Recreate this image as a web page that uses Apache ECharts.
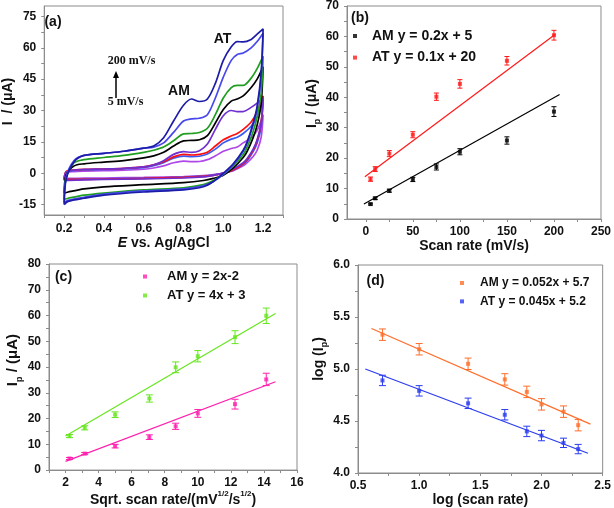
<!DOCTYPE html>
<html><head><meta charset="utf-8">
<script src="https://cdn.jsdelivr.net/npm/echarts@6/dist/echarts.min.js"></script>
<style>html,body{margin:0;padding:0;background:#fff}#c{width:614px;height:508px}</style>
</head><body><div id="c"></div>
<script>
// ---------- Panel (a): cyclic voltammograms ----------
const fwdE = [0.20, 0.21, 0.25, 0.30, 0.40, 0.50, 0.60, 0.65, 0.70, 0.75, 0.80, 0.84, 0.88, 0.92, 0.96, 1.00, 1.04, 1.07, 1.10, 1.14, 1.17, 1.20];
const revE = [1.20, 1.19, 1.17, 1.15, 1.12, 1.10, 1.05, 1.00, 0.95, 0.90, 0.80, 0.60, 0.40, 0.30, 0.22, 0.20];
const cvRates = ['200 mV/s', '150 mV/s', '100 mV/s', '75 mV/s', '50 mV/s', '25 mV/s', '10 mV/s', '5 mV/s'];
const cvColors = ['#1c1ca8', '#4848ec', '#1f9e1f', '#000000', '#7030d0', '#ff1010', '#3a5cf5', '#b048e8'];
const cvFwd200 = [-15, -3, 5.5, 8.5, 9.5, 10.5, 12, 13, 17, 25, 32.5, 35.5, 34.3, 35.5, 43, 54, 60.5, 63, 62.8, 64, 66.5, 69];
const cvRev200 = [69, 48, 32, 24, 15, 11, 4.5, 0, -4, -6.5, -8, -9, -10.5, -12, -13.5, -15];
const cvFwd150 = [-14, -2, 6, 8.5, 9.5, 10.5, 12, 12.5, 14.5, 19.5, 25, 26, 26.3, 28, 36, 46, 54, 56.8, 57.5, 60, 63, 67];
const cvRev150 = [67, 46, 31, 23, 14.5, 10.5, 4, -0.5, -4, -6, -7.5, -8.5, -10, -11.5, -13, -14];
const cvFwd100 = [-12.5, -2, 5, 6.5, 7.5, 8.5, 10, 11, 12.5, 15.5, 18.8, 19, 19.5, 21.5, 28, 36, 41, 42, 42, 45.5, 50, 56];
const cvRev100 = [56, 38, 27, 20, 12.5, 9, 3.5, -0.5, -3.5, -5.5, -7, -8, -9.5, -10.5, -12, -12.5];
const cvFwd75 = [-9.5, -1, 3.5, 4.5, 5.3, 6, 7.3, 8.3, 10, 13, 15.5, 15.7, 16, 18, 24, 30.5, 34.5, 35.5, 37, 41, 45, 51];
const cvRev75 = [51, 33, 23, 17, 10.5, 7.5, 2.5, -1, -2.5, -3.5, -4.5, -5.5, -6.5, -7.5, -9, -9.5];
const cvFwd50 = [-3.5, 0.5, 1.5, 1.8, 2, 2.3, 3, 4, 6, 9, 10.3, 10, 10.8, 14, 21, 27.5, 30, 29.5, 29.5, 31.5, 33.5, 36];
const cvRev50 = [36, 24, 16, 11.5, 7, 5, 2, 0, -1, -1.8, -2.3, -2.7, -3, -3.2, -3.4, -3.5];
const cvFwd25 = [-3, 0.8, 1.5, 1.8, 2, 2.3, 3, 4, 5.5, 7.8, 9, 8.7, 9, 10, 13, 16, 17.8, 19, 21, 24.5, 29.5, 37];
const cvRev25 = [37, 24, 15.5, 11, 6.5, 4.5, 1.5, 0, -1, -1.5, -2, -2.5, -2.8, -3, -3, -3];
const cvFwd10 = [-3, 0.5, 1.3, 1.6, 1.8, 2.1, 2.7, 3.6, 5, 7.2, 8.2, 7.9, 8.1, 9.2, 11.5, 14.5, 16.3, 17.2, 19, 22.5, 27, 35];
const cvRev10 = [35, 22, 14.5, 10.3, 6, 4.2, 1.4, 0, -0.9, -1.4, -1.9, -2.4, -2.7, -2.9, -3, -3];
const cvFwd5 = [-2.5, 0.3, 0.8, 1.0, 1.2, 1.4, 1.9, 2.5, 3.5, 5, 5.8, 5.5, 5.6, 6.5, 8.3, 10.5, 11.8, 12.5, 14.5, 17, 20.5, 28];
const cvRev5 = [28, 17, 11, 8, 5, 3.5, 1.2, 0, -0.7, -1.2, -1.6, -2, -2.3, -2.4, -2.5, -2.5];
const cvFwdAll = [cvFwd200, cvFwd150, cvFwd100, cvFwd75, cvFwd50, cvFwd25, cvFwd10, cvFwd5];
const cvRevAll = [cvRev200, cvRev150, cvRev100, cvRev75, cvRev50, cvRev25, cvRev10, cvRev5];

// ---------- Panels (b)-(d) ----------
const scanRate = [5, 10, 25, 50, 75, 100, 150, 200];
const bAM = [4.9, 6.8, 9.3, 13.0, 17.1, 22.1, 25.8, 35.3];
const bAMerr = [0.3, 0.4, 0.5, 0.7, 1.0, 1.0, 1.2, 1.6];
const bAT = [13.1, 16.4, 21.5, 27.7, 40.2, 44.4, 52.0, 60.4];
const bATerr = [0.7, 0.8, 1.0, 1.0, 1.2, 1.4, 1.4, 1.6];
const bAMfit = [[-2, 4.9], [206, 40.9]];
const bATfit = [[-1, 13.9], [201.5, 60.7]];

const sqrtScanRate = [2.24, 3.16, 5.00, 7.07, 8.66, 10.00, 12.25, 14.14];
const cAM = [4.5, 6.4, 9.3, 12.8, 17.0, 22.0, 25.6, 35.2];
const cAMerr = [0.4, 0.4, 0.7, 0.9, 1.2, 1.5, 1.9, 2.4];
const cAT = [13.2, 16.4, 21.5, 27.8, 39.9, 44.2, 51.6, 59.9];
const cATerr = [0.6, 0.8, 1.1, 1.4, 2.1, 2.2, 2.5, 3.0];
const cAMfit = [[2.0, 3.4], [14.7, 34.3]];
const cATfit = [[2.0, 13.2], [14.7, 60.8]];

const logScanRate = [0.70, 1.00, 1.40, 1.70, 1.88, 2.00, 2.18, 2.30];
const dAM = [5.33, 5.19, 5.05, 4.90, 4.78, 4.66, 4.59, 4.46];
const dAMerr = [0.055, 0.055, 0.055, 0.055, 0.055, 0.055, 0.055, 0.055];
const dAT = [4.89, 4.79, 4.67, 4.56, 4.40, 4.36, 4.29, 4.23];
const dATerr = [0.05, 0.05, 0.05, 0.05, 0.05, 0.05, 0.045, 0.045];
const dAMfit = [[0.61, 5.39], [2.40, 4.47]];
const dATfit = [[0.56, 5.00], [2.38, 4.19]];

// tick / label values
const aXTicks = [0.1, 0.2, 0.3, 0.4, 0.5, 0.6, 0.7, 0.8, 0.9, 1.0, 1.1, 1.2, 1.3];
const aXLabels = [0.2, 0.4, 0.6, 0.8, 1.0, 1.2];
const aYTicks = [-15, -7.5, 0, 7.5, 15, 22.5, 30, 37.5, 45, 52.5, 60, 67.5, 75];
const aYLabels = [-15, 0, 15, 30, 45, 60, 75];
const bXTicks = [0, 25, 50, 75, 100, 125, 150, 175, 200, 225, 250];
const bXLabels = [0, 50, 100, 150, 200, 250];
const bYTicks = [0, 5, 10, 15, 20, 25, 30, 35, 40, 45, 50, 55, 60, 65, 70];
const bYLabels = [0, 10, 20, 30, 40, 50, 60, 70];
const cXTicks = [1, 2, 3, 4, 5, 6, 7, 8, 9, 10, 11, 12, 13, 14, 15, 16];
const cXLabels = [2, 4, 6, 8, 10, 12, 14, 16];
const cYTicks = [0, 5, 10, 15, 20, 25, 30, 35, 40, 45, 50, 55, 60, 65, 70, 75, 80];
const cYLabels = [0, 10, 20, 30, 40, 50, 60, 70, 80];
const dXTicks = [0.5, 0.75, 1.0, 1.25, 1.5, 1.75, 2.0, 2.25, 2.5];
const dXLabels = [0.5, 1.0, 1.5, 2.0, 2.5];
const dYTicks = [4.0, 4.25, 4.5, 4.75, 5.0, 5.25, 5.5, 5.75, 6.0];
const dYLabels = [4.0, 4.5, 5.0, 5.5, 6.0];

// ---------- build option ----------
const FONT = '"Liberation Sans", Arial, Helvetica, sans-serif';
const SERIF = '"Liberation Serif", "Times New Roman", serif';
const FRAME = '#8c8c8c';
const TXT = '#111';

function axis(gi, min, max, ticks, labels, fmt, margin, name, nameGap, nts) {
  return {
    type: 'value', gridIndex: gi, min: min, max: max,
    axisLine: { show: true, onZero: false, lineStyle: { color: FRAME, width: 1 } },
    axisTick: { show: true, inside: false, length: 3, customValues: ticks, lineStyle: { color: FRAME } },
    axisLabel: { customValues: labels, formatter: fmt, color: TXT, fontFamily: FONT, fontWeight: 'bold', fontSize: 12, margin: margin },
    splitLine: { show: false },
    name: name, nameLocation: 'middle', nameGap: nameGap,
    nameTextStyle: Object.assign({ fontFamily: FONT, fontWeight: 'bold', fontSize: 14, color: TXT }, nts || {})
  };
}
const f1 = v => Number(v).toFixed(1);
const f0 = v => String(Math.round(v));
const subRich = {
  s: { fontSize: 9, fontWeight: 'bold', fontFamily: FONT, color: TXT, verticalAlign: 'bottom', lineHeight: 9 },
  u: { fontSize: 8, fontWeight: 'bold', fontFamily: FONT, color: TXT, verticalAlign: 'top', lineHeight: 8 },
  i: { fontSize: 14, fontWeight: 'bold', fontStyle: 'italic', fontFamily: FONT, color: TXT },
  n: { fontSize: 14, fontWeight: 'bold', fontFamily: FONT, color: TXT, lineHeight: 20 },
  m: { fontSize: 15, fontWeight: 'bold', fontFamily: FONT, color: TXT, lineHeight: 22 }
};

const grids = [
  { left: 37, top: 6, width: 246, height: 209 },
  { left: 347, top: 5, width: 257, height: 214 },
  { left: 49, top: 264, width: 248, height: 208 },
  { left: 358, top: 265, width: 246, height: 208 }
].map(g => Object.assign({ show: true, borderColor: FRAME, borderWidth: 1, backgroundColor: 'transparent' }, g));

const xAxes = [
  axis(0, 0.1, 1.3, aXTicks, aXLabels, f1, 8, '{i|E} vs. Ag/AgCl', 20, { rich: subRich }),
  axis(1, -20, 250, bXTicks, bXLabels, f0, 7, 'Scan rate (mV/s)', 16),
  axis(2, 1, 16, cXTicks, cXLabels, f0, 7, '{n|Sqrt. scan rate/(mV}{u|1/2}{n|/s}{u|1/2}{n|)}', 14, { rich: subRich }),
  axis(3, 0.5, 2.5, dXTicks, dXLabels, f1, 7, 'log (scan rate)', 18)
];
const yAxes = [
  axis(0, -20, 80, aYTicks, aYLabels, f0, 8, '{n|I  / (μA)}', 22, { rich: subRich, padding: [0, 0, 0, 18] }),
  axis(1, 0, 70, bYTicks, bYLabels, f0, 8, '{n|I}{s|p}{n| / (μA)}', 22, { rich: subRich, padding: [0, 0, 0, 18] }),
  axis(2, 0, 80, cYTicks, cYLabels, f0, 8, '{m|I}{s|p}{m| / (μA)}', 20, { rich: subRich, padding: [0, 0, 0, 14] }),
  axis(3, 4, 6, dYTicks, dYLabels, f1, 8, '{n|log (I}{s|p}{n|)}', 28, { rich: subRich, padding: [0, 0, 0, 20] })
];

const series = [];
// CV loops
for (let k = cvRates.length - 1; k >= 0; k--) {
  const pts = fwdE.map((e, i) => [e, cvFwdAll[k][i]]).concat(revE.map((e, i) => [e, cvRevAll[k][i]]));
  series.push({
    type: 'line', name: cvRates[k], xAxisIndex: 0, yAxisIndex: 0, data: pts,
    showSymbol: false, smooth: 0.3, lineStyle: { color: cvColors[k], width: 1.7 }, itemStyle: { color: cvColors[k] }, z: 2
  });
}
function errBars(gi, xs, ys, es, color, cap) {
  return {
    type: 'custom', xAxisIndex: gi, yAxisIndex: gi, z: 3,
    data: xs.map((x, i) => [x, ys[i], es[i]]),
    encode: { x: 0, y: 1 },
    renderItem: function (params, api) {
      const x = api.value(0), y = api.value(1), e = api.value(2);
      const hi = api.coord([x, y + e]), lo = api.coord([x, y - e]);
      const st = { stroke: color, lineWidth: 1 };
      return { type: 'group', children: [
        { type: 'line', shape: { x1: hi[0], y1: hi[1], x2: lo[0], y2: lo[1] }, style: st },
        { type: 'line', shape: { x1: hi[0] - cap, y1: hi[1], x2: hi[0] + cap, y2: hi[1] }, style: st },
        { type: 'line', shape: { x1: lo[0] - cap, y1: lo[1], x2: lo[0] + cap, y2: lo[1] }, style: st }
      ] };
    }
  };
}
function pts(gi, name, xs, ys, color) {
  return { type: 'scatter', name: name, xAxisIndex: gi, yAxisIndex: gi, symbol: 'rect', symbolSize: 4,
    data: xs.map((x, i) => [x, ys[i]]), itemStyle: { color: color }, z: 4 };
}
function fit(gi, line, color) {
  return { type: 'line', xAxisIndex: gi, yAxisIndex: gi, data: line, showSymbol: false, silent: true,
    lineStyle: { color: color, width: 1.2 }, z: 3 };
}
const BLK = '#000000', RED = '#ff1a1a', MAG = '#ff1fae', GRN = '#66e61e', ORG = '#ff6e2a', BLU = '#2a3cf0';
series.push(fit(1, bAMfit, BLK), fit(1, bATfit, RED),
  errBars(1, scanRate, bAM, bAMerr, BLK, 2.5), errBars(1, scanRate, bAT, bATerr, RED, 2.5),
  pts(1, 'AM y = 0.2x + 5', scanRate, bAM, BLK), pts(1, 'AT y = 0.1x + 20', scanRate, bAT, RED));
series.push(fit(2, cAMfit, MAG), fit(2, cATfit, GRN),
  errBars(2, sqrtScanRate, cAM, cAMerr, MAG, 3.5), errBars(2, sqrtScanRate, cAT, cATerr, GRN, 3.5),
  pts(2, 'AM y = 2x-2', sqrtScanRate, cAM, MAG), pts(2, 'AT y = 4x + 3', sqrtScanRate, cAT, GRN));
series.push(fit(3, dAMfit, ORG), fit(3, dATfit, BLU),
  errBars(3, logScanRate, dAM, dAMerr, ORG, 3.5), errBars(3, logScanRate, dAT, dATerr, BLU, 3.5),
  pts(3, 'AM y = 0.052x + 5.7', logScanRate, dAM, ORG), pts(3, 'AT y = 0.045x + 5.2', logScanRate, dAT, BLU));

function legend(left, top, names, fs, gap, pad) {
  return { left: left, top: top, orient: 'vertical', data: names, icon: 'rect', itemWidth: 4, itemHeight: 4,
    itemGap: gap, padding: 0, selectedMode: false,
    textStyle: { fontFamily: FONT, fontWeight: 'bold', fontSize: fs, color: TXT, lineHeight: fs + 2, padding: [0, 0, 0, pad] } };
}
const legends = [
  legend(353, 28, ['AM y = 0.2x + 5', 'AT y = 0.1x + 20'], 14, 5.6, 10),
  legend(143, 269, ['AM y = 2x-2', 'AT y = 4x + 3'], 13, 4, 15),
  legend(460, 276, ['AM y = 0.052x + 5.7', 'AT y = 0.045x + 5.2'], 12, 4.4, 11)
];

function label(text, x, y, size, font) {
  return { type: 'text', x: x, y: y, z: 50, style: { text: text, fontFamily: font || FONT, fontWeight: 'bold', fontSize: size,
    fill: TXT, align: 'center', verticalAlign: 'middle', textAlign: 'center', textVerticalAlign: 'middle' } };
}
const graphics = [
  label('(a)', 53, 22, 14), label('(b)', 360, 18, 14), label('(c)', 63.5, 277, 14), label('(d)', 375.5, 281, 14),
  label('AT', 222.5, 39, 14), label('AM', 179, 91, 14),
  label('200 mV/s', 131.5, 61, 12, SERIF), label('5 mV/s', 125.5, 102, 12, SERIF),
  { type: 'line', z: 50, shape: { x1: 116, y1: 98, x2: 116, y2: 76 }, style: { stroke: '#000', lineWidth: 1.5 } },
  { type: 'polygon', z: 50, shape: { points: [[113, 78], [119, 78], [116, 71]] }, style: { fill: '#000' } }
];

const chart = echarts.init(document.getElementById('c'), null, { renderer: 'canvas' });
chart.setOption({
  backgroundColor: '#ffffff', animation: false,
  grid: grids, xAxis: xAxes, yAxis: yAxes, series: series, legend: legends, graphic: graphics
});
</script></body></html>
